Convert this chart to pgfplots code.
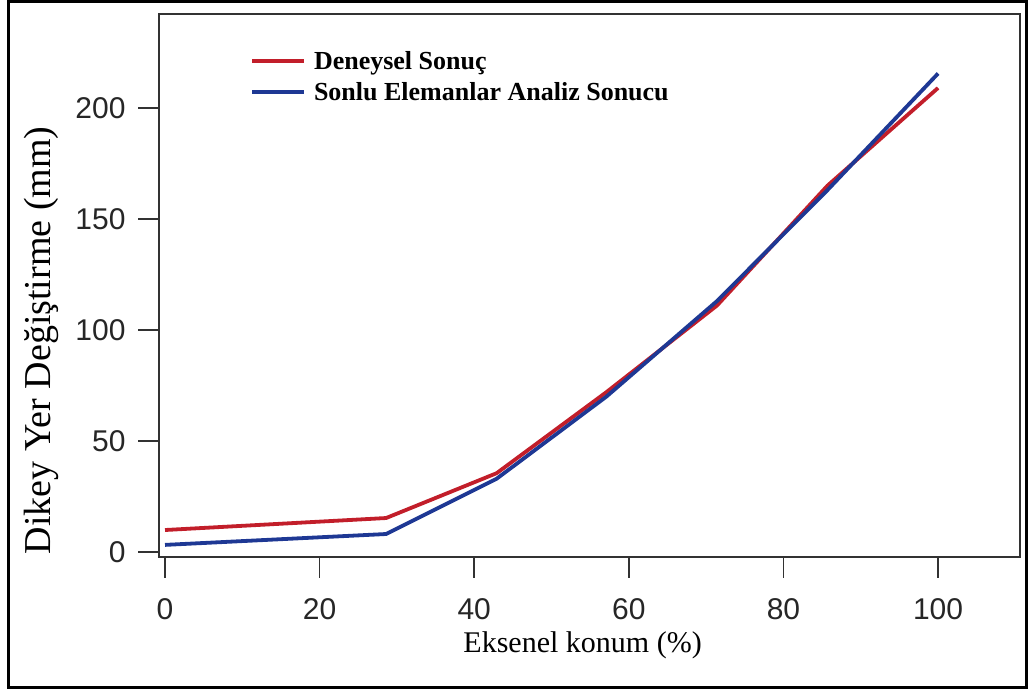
\documentclass[border=0pt]{standalone}
\usepackage{fontspec}
\setmainfont{Liberation Serif}
\newfontfamily\arialf{Liberation Sans}
\usepackage{pgfplots}
\pgfplotsset{compat=1.18}
\definecolor{dred}{RGB}{194,30,42}
\definecolor{dblue}{RGB}{30,56,148}
\definecolor{axgray}{RGB}{50,50,50}
\begin{document}
\begin{tikzpicture}[x=1pt,y=1pt]
\path[use as bounding box] (0,0) rectangle (1033,695);
\draw[line width=3pt] (8.5,7.5) rectangle (1026.5,693.5);
\begin{axis}[
  at={(159pt,138pt)}, anchor=south west,
  scale only axis, width=861pt, height=543pt,
  xmin=-0.78, xmax=110.6, ymin=-2.25, ymax=242.3,
  xtick={0,20,...,100}, ytick={0,50,...,200},
  tick align=outside, tick pos=left, major tick length=21pt,
  axis line style={line width=1.6pt, color=axgray},
  every tick/.style={line width=1.6pt, color=axgray},
  /pgf/number format/assume math mode=true,
  ticklabel style={font=\arialf\fontsize{30}{30}\selectfont, text=black!85},
  xticklabel style={yshift=-17pt},
  yticklabel style={xshift=-9pt},
  xlabel={Eksenel konum (\%)},
  ylabel={Dikey Yer Değiştirme (mm)},
  xlabel style={font=\fontsize{30}{30}\selectfont, at={(axis description cs:0.492,-0.175)}, anchor=base},
  ylabel style={font=\fontsize{38}{38}\selectfont, at={(axis description cs:-0.137,0.399)}, anchor=center},
  legend style={at={(axis description cs:0.1057,0.935)}, anchor=north west, draw=none, fill=none,
    font=\bfseries\fontsize{26}{26}\selectfont, row sep=7pt, inner sep=0pt},
  legend cell align=left,
  legend image code/.code={\draw[#1, line width=3.8pt] (0pt,0pt) -- (52pt,0pt); \path (58pt,0pt);},
]
\addplot[dred, line width=3.8pt] coordinates {
(0,9.9) (28.6,15.3) (42.9,35.5) (57.1,72) (71.4,111) (85.7,165) (100,209)
};
\addlegendentry{Deneysel Sonuç}
\addplot[dblue, line width=3.8pt] coordinates {
(0,3.2) (28.6,8.1) (42.9,33) (57.1,70) (71.4,113) (85.7,163) (100,215.5)
};
\addlegendentry{Sonlu Elemanlar Analiz Sonucu}
\end{axis}
\end{tikzpicture}
\end{document}
